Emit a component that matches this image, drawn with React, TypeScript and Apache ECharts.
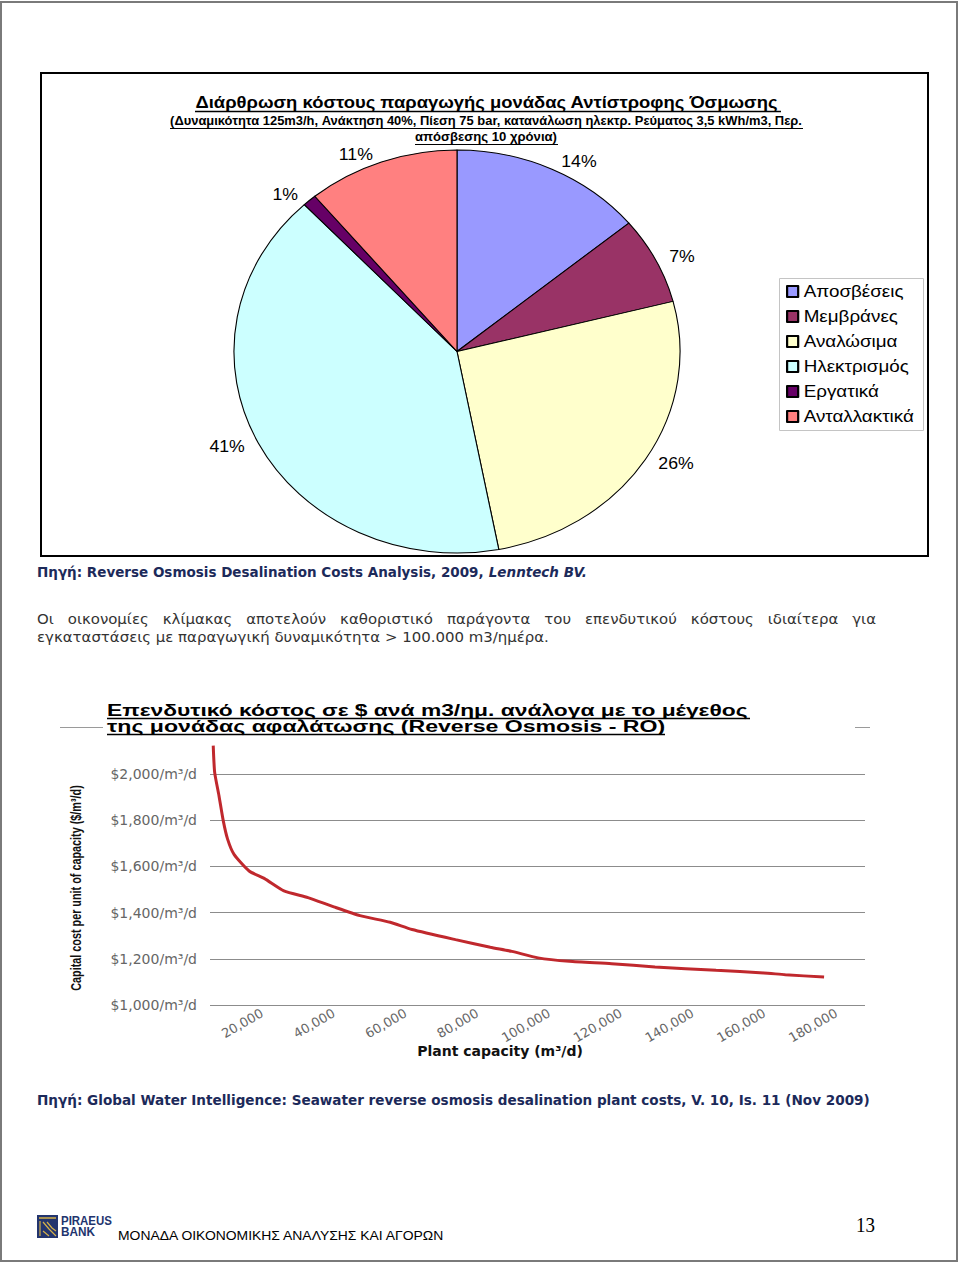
import React, { useEffect, useRef } from "react";
import * as echarts from "echarts";

// ---------------- data ----------------
const costCategories = ["Αποσβέσεις", "Μεμβράνες", "Αναλώσιμα", "Ηλεκτρισμός", "Εργατικά", "Ανταλλακτικά"];
const costShares = [14, 7, 26, 41, 1, 11];
const costColors = ["#9999FF", "#993366", "#FFFFCC", "#CCFFFF", "#660066", "#FF8080"];

const plantCapacity = [6400, 6800, 8000, 9200, 10400, 12200, 16400, 20700, 26100, 32800, 40000, 47300, 55700, 61800, 73900, 83600, 89600, 96900, 105600, 117400, 129500, 146500, 159800, 165800, 176600];
const capitalCost = [2123, 2007, 1906, 1797, 1718, 1652, 1580, 1547, 1494, 1465, 1425, 1387, 1358, 1327, 1283, 1250, 1232, 1204, 1189, 1179, 1165, 1150, 1139, 1131, 1121];
const capacityTicks = [20000, 40000, 60000, 80000, 100000, 120000, 140000, 160000, 180000];

const pieTitle = "Διάρθρωση κόστους παραγωγής μονάδας Αντίστροφης Όσμωσης";
const pieSubtitle1 = "(Δυναμικότητα 125m3/h, Ανάκτηση 40%, Πίεση 75 bar, κατανάλωση ηλεκτρ. Ρεύματος 3,5 kWh/m3, Περ.";
const pieSubtitle2 = "απόσβεσης 10 χρόνια)";
const source1a = "Πηγή: Reverse Osmosis Desalination Costs Analysis, 2009, ";
const source1b = "Lenntech BV.";
const para1 = "Οι οικονομίες κλίμακας αποτελούν καθοριστικό παράγοντα του επενδυτικού κόστους ιδιαίτερα για";
const para2 = "εγκαταστάσεις με παραγωγική δυναμικότητα > 100.000 m3/ημέρα.";
const lineTitle1 = "Επενδυτικό κόστος σε $ ανά m3/ημ. ανάλογα με το μέγεθος";
const lineTitle2 = "της μονάδας αφαλάτωσης (Reverse Osmosis - RO)";
const yAxisTitle = "Capital cost per unit of capacity ($/m³/d)";
const xAxisTitle = "Plant capacity (m³/d)";
const source2 = "Πηγή: Global Water Intelligence: Seawater reverse osmosis desalination plant costs, V. 10, Is. 11 (Nov 2009)";
const footerText = "ΜΟΝΑΔΑ ΟΙΚΟΝΟΜΙΚΗΣ ΑΝΑΛΥΣΗΣ ΚΑΙ ΑΓΟΡΩΝ";
const pageNumber = "13";

// ---------------- fonts / layout ----------------
const SANS = "'Liberation Sans', Arial, sans-serif";
const VERD = "'DejaVu Sans', Verdana, sans-serif";
const SERIF = "'Liberation Serif', 'Times New Roman', serif";
const NAVY = "#1c2a5a";
const PIE_STRETCH = 1.107; // the scanned pie is horizontally stretched (ellipse)

function makeMeasurer() {
  const c = document.createElement("canvas").getContext("2d") as CanvasRenderingContext2D;
  return (text: string, font: string) => {
    c.font = font;
    return c.measureText(text).width;
  };
}

type Measure = (t: string, f: string) => number;

function fitText(measure: Measure, text: string, x: number, y: number, width: number, font: string, fill: string, align = "left", rotation = 0) {
  const w = measure(text, font) || 1;
  return {
    type: "text",
    x,
    y,
    rotation,
    scaleX: width / w,
    silent: true,
    style: { text, font, fill, align, verticalAlign: "middle", textAlign: align, textVerticalAlign: "middle" },
  };
}

function hLine(x1: number, x2: number, y: number, stroke: string, lineWidth = 1) {
  return { type: "line", silent: true, shape: { x1, y1: y, x2, y2: y }, style: { stroke, lineWidth } };
}

function buildGraphic(measure: Measure) {
  const els: any[] = [];
  els.push({ type: "rect", silent: true, shape: { x: 1, y: 2, width: 956, height: 1259 }, style: { fill: "none", stroke: "#7a7a7a", lineWidth: 2 } });
  els.push({ type: "rect", silent: true, shape: { x: 41, y: 73, width: 887, height: 483 }, style: { fill: "none", stroke: "#000", lineWidth: 2 } });
  els.push({ type: "rect", silent: true, shape: { x: 779.5, y: 278.5, width: 144, height: 152 }, style: { fill: "none", stroke: "#c4c4c4", lineWidth: 1 } });

  els.push(fitText(measure, pieTitle, 486.5, 102, 583, `bold 16px ${SANS}`, "#000", "center"));
  els.push(hLine(195, 781, 111.5, "#000", 1.3));
  els.push(fitText(measure, pieSubtitle1, 486, 121, 632, `bold 12px ${SANS}`, "#000", "center"));
  els.push(hLine(170, 803, 128.5, "#000", 1));
  els.push(fitText(measure, pieSubtitle2, 486, 137, 142, `bold 12px ${SANS}`, "#000", "center"));
  els.push(hLine(415, 558, 144.5, "#000", 1));

  const fA = `bold 14px ${VERD}`;
  const fB = `italic bold 14px ${VERD}`;
  const wa = measure(source1a, fA);
  const wb = measure(source1b, fB);
  const s1 = 550 / (wa + wb);
  els.push({ type: "text", x: 37, y: 572, scaleX: s1, silent: true, style: { text: source1a, font: fA, fill: NAVY, align: "left", verticalAlign: "middle", textAlign: "left", textVerticalAlign: "middle" } });
  els.push({ type: "text", x: 37 + wa * s1, y: 572, scaleX: s1, silent: true, style: { text: source1b, font: fB, fill: NAVY, align: "left", verticalAlign: "middle", textAlign: "left", textVerticalAlign: "middle" } });

  const pFont = `14px ${VERD}`;
  const ps = 512 / measure(para2, pFont);
  els.push(fitText(measure, para2, 37, 637, 512, pFont, "#333", "left"));
  const words = para1.split(" ");
  const ws = words.map((w) => measure(w, pFont) * ps);
  const gap = (839 - ws.reduce((a, b) => a + b, 0)) / (words.length - 1);
  let cx = 37;
  words.forEach((w, i) => {
    els.push({ type: "text", x: cx, y: 619, scaleX: ps, silent: true, style: { text: w, font: pFont, fill: "#333", align: "left", verticalAlign: "middle", textAlign: "left", textVerticalAlign: "middle" } });
    cx += ws[i] + gap;
  });

  els.push(fitText(measure, lineTitle1, 107, 710, 641, `bold 16px ${SANS}`, "#000", "left"));
  els.push(hLine(107, 750, 718.5, "#000", 1.5));
  els.push(fitText(measure, lineTitle2, 107, 726, 558, `bold 16px ${SANS}`, "#000", "left"));
  els.push(hLine(107, 665, 734.5, "#000", 1.5));
  els.push(hLine(60, 103, 727.5, "#9a9a9a", 1));
  els.push(hLine(855, 870, 727.5, "#9a9a9a", 1));

  // y axis title (condensed, vertical)
  els.push(fitText(measure, yAxisTitle, 77, 888, 206, `bold 14px ${SANS}`, "#111", "center", Math.PI / 2));

  els.push(fitText(measure, source2, 37, 1100, 834, `bold 14px ${VERD}`, NAVY, "left"));

  els.push({ type: "rect", silent: true, shape: { x: 37, y: 1215, width: 21, height: 23 }, style: { fill: "#22346e" } });
  els.push({ type: "polyline", silent: true, shape: { points: [[39, 1218], [56, 1218]] }, style: { stroke: "#d4b04a", lineWidth: 1.5, fill: "none" } });
  els.push({ type: "polyline", silent: true, shape: { points: [[40, 1221], [40, 1236]] }, style: { stroke: "#d4b04a", lineWidth: 1.2, fill: "none" } });
  els.push({ type: "polyline", silent: true, shape: { points: [[43, 1222], [49, 1229], [56, 1236]] }, style: { stroke: "#d4b04a", lineWidth: 1.2, fill: "none" } });
  els.push({ type: "polyline", silent: true, shape: { points: [[47, 1222], [52, 1228], [56, 1231]] }, style: { stroke: "#d4b04a", lineWidth: 1.2, fill: "none" } });
  els.push({ type: "polyline", silent: true, shape: { points: [[43, 1231], [49, 1236]] }, style: { stroke: "#d4b04a", lineWidth: 1.2, fill: "none" } });
  els.push(fitText(measure, "PIRAEUS", 61, 1220, 51, `bold 12px ${SANS}`, "#22346e", "left"));
  els.push(fitText(measure, "BANK", 61, 1232, 34, `bold 12px ${SANS}`, "#22346e", "left"));
  els.push(fitText(measure, footerText, 118, 1236, 328, `13px ${SANS}`, "#000", "left"));
  els.push(fitText(measure, pageNumber, 856, 1225, 19, `20px ${SERIF}`, "#000", "left"));

  return els;
}

export default function App() {
  const pageRef = useRef<HTMLDivElement>(null);
  const pieRef = useRef<HTMLDivElement>(null);

  useEffect(() => {
    if (!pageRef.current || !pieRef.current) return;
    const chart = echarts.init(pageRef.current, undefined, { renderer: "svg" });
    const pieChart = echarts.init(pieRef.current, undefined, { renderer: "svg" });
    const measure = makeMeasurer();

    const option: any = {
      animation: false,
      backgroundColor: "#ffffff",
      grid: { left: 210, right: 95, top: 774, bottom: 259, containLabel: false },
      xAxis: {
        type: "value",
        min: 5500,
        max: 188000,
        axisLine: { show: false },
        axisTick: { show: false, customValues: capacityTicks },
        splitLine: { show: false },
        axisLabel: {
          customValues: capacityTicks,
          rotate: 30,
          margin: 7,
          color: "#666",
          fontFamily: VERD,
          fontSize: 13,
          formatter: (v: number) => v.toLocaleString("en-US"),
        },
        name: xAxisTitle,
        nameLocation: "middle",
        nameGap: 39,
        nameMoveOverlap: false,
        nameTextStyle: { fontFamily: VERD, fontWeight: "bold", fontSize: 14, color: "#111", padding: [0, 75, 0, 0] },
      },
      yAxis: {
        type: "value",
        min: 1000,
        max: 2000,
        interval: 200,
        axisLine: { show: false },
        axisTick: { show: false },
        splitLine: { lineStyle: { color: "#8c8c8c", width: 1 } },
        axisLabel: {
          margin: 13,
          color: "#666",
          fontFamily: VERD,
          fontSize: 14,
          formatter: (v: number) => `$${v.toLocaleString("en-US")}/m³/d`,
        },
      },
      series: [
        {
          type: "line",
          name: "Capital cost",
          data: plantCapacity.map((x, i) => [x, capitalCost[i]]),
          showSymbol: false,
          clip: false,
          smooth: 0.2,
          silent: true,
          lineStyle: { color: "#c0282d", width: 3 },
        },
      ],
      graphic: { elements: buildGraphic(measure) },
    };

    const k = PIE_STRETCH;
    const pieOption: any = {
      animation: false,
      legend: {
        data: costCategories,
        orient: "vertical",
        left: 786 / k,
        top: 283,
        icon: "rect",
        itemWidth: 10,
        itemHeight: 11,
        itemGap: 8,
        selectedMode: false,
        padding: 0,
        textStyle: { fontSize: 17, lineHeight: 17, color: "#000", fontFamily: SANS },
      },
      series: [
        {
          type: "pie",
          center: [457 / k, 351.5],
          radius: 201.5,
          startAngle: 90,
          clockwise: true,
          silent: true,
          avoidLabelOverlap: false,
          itemStyle: { borderColor: "#000", borderWidth: 1 },
          label: { show: true, position: "outside", formatter: "{c}%", fontSize: 16, color: "#000", fontFamily: SANS },
          labelLine: { show: false, length: 8, length2: 0 },
          emphasis: { disabled: true },
          data: costCategories.map((name, i) => ({ name, value: costShares[i], itemStyle: { color: costColors[i] } })),
        },
      ],
    };

    chart.setOption(option);
    pieChart.setOption(pieOption);
    return () => {
      chart.dispose();
      pieChart.dispose();
    };
  }, []);

  return (
    <div style={{ position: "absolute", left: 0, top: 0, width: 960, height: 1264, overflow: "hidden", background: "#fff" }}>
      <div ref={pageRef} style={{ position: "absolute", left: 0, top: 0, width: 960, height: 1264 }} />
      <div
        ref={pieRef}
        style={{
          position: "absolute",
          left: 0,
          top: 0,
          width: 860,
          height: 600,
          transform: `scaleX(${PIE_STRETCH})`,
          transformOrigin: "0 0",
        }}
      />
    </div>
  );
}
